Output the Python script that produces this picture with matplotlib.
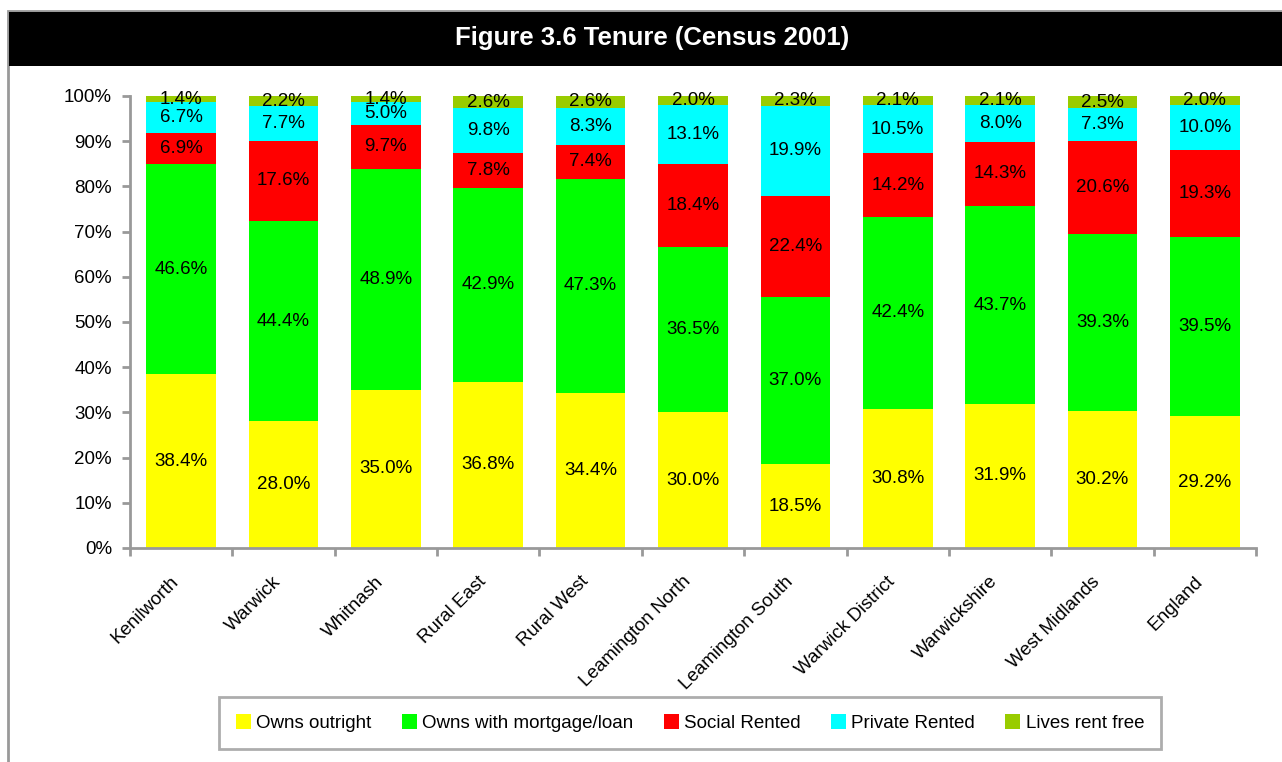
import matplotlib.pyplot as plt
import matplotlib.patches as mpatches
import matplotlib.transforms as mtransforms
import numpy as np
from matplotlib.ticker import PercentFormatter

areas = ['Kenilworth', 'Warwick', 'Whitnash', 'Rural East', 'Rural West',
         'Leamington North', 'Leamington South', 'Warwick District',
         'Warwickshire', 'West Midlands', 'England']

owns_outright = [38.4, 28.0, 35.0, 36.8, 34.4, 30.0, 18.5, 30.8, 31.9, 30.2, 29.2]
owns_mortgage = [46.6, 44.4, 48.9, 42.9, 47.3, 36.5, 37.0, 42.4, 43.7, 39.3, 39.5]
social_rented = [6.9, 17.6, 9.7, 7.8, 7.4, 18.4, 22.4, 14.2, 14.3, 20.6, 19.3]
private_rented = [6.7, 7.7, 5.0, 9.8, 8.3, 13.1, 19.9, 10.5, 8.0, 7.3, 10.0]
rent_free = [1.4, 2.2, 1.4, 2.6, 2.6, 2.0, 2.3, 2.1, 2.1, 2.5, 2.0]

series = [
    ('Owns outright', owns_outright, '#FFFF00'),
    ('Owns with mortgage/loan', owns_mortgage, '#00FF00'),
    ('Social Rented', social_rented, '#FF0000'),
    ('Private Rented', private_rented, '#00FFFF'),
    ('Lives rent free', rent_free, '#99CC00'),
]

narrow = ['Liberation Sans Narrow', 'Liberation Sans', 'DejaVu Sans']
plt.rcParams['font.family'] = narrow

fig = plt.figure(figsize=(12.82, 7.62), dpi=100)

# outer frame and black title bar
fig.add_artist(mpatches.Rectangle((8 / 1282, -0.05), 1.1, (762 - 11) / 762 + 0.05,
                                  transform=fig.transFigure, fill=False,
                                  edgecolor='#999999', linewidth=2))
fig.add_artist(mpatches.Rectangle((9 / 1282, (762 - 66) / 762), 1.0, 54 / 762,
                                  transform=fig.transFigure, facecolor='black',
                                  edgecolor='none'))
fig.text(652 / 1282, (762 - 38) / 762, 'Figure 3.6 Tenure (Census 2001)',
         color='white', fontsize=18.5, fontweight='bold',
         family=['Liberation Sans', 'DejaVu Sans'], ha='center', va='center')

ax = fig.add_axes([130 / 1282, 214 / 762, 1126 / 1282, 452 / 762])

x = np.arange(len(areas))
bottom = np.zeros(len(areas))
handles = []
for name, vals, col in series:
    vals = np.array(vals)
    bars = ax.bar(x, vals, 0.68, bottom=bottom, color=col, label=name)
    ax.bar_label(bars, labels=[f'{v:.1f}%' for v in vals], label_type='center',
                 fontsize=13.5, color='black')
    bottom += vals
    handles.append(bars)

ax.set_xlim(-0.5, len(areas) - 0.5)
ax.set_ylim(0, 100)
ax.yaxis.set_major_formatter(PercentFormatter(decimals=0))
ax.set_yticks(np.arange(0, 101, 10))
ax.tick_params(axis='y', labelsize=13.5, length=6, width=2, color='#999999',
               pad=7, labelcolor='black')

ax.set_xticks(np.arange(-0.5, len(areas)))
ax.set_xticklabels([])
ax.tick_params(axis='x', which='major', length=6, width=2, color='#999999')
ax.set_xticks(x, minor=True)
ax.set_xticklabels(areas, minor=True, rotation=45, ha='right',
                   rotation_mode='anchor', fontsize=13.5)
ax.tick_params(axis='x', which='minor', length=0, pad=18)
shift = mtransforms.ScaledTranslation(-11 / 100, 0, fig.dpi_scale_trans)
for lab in ax.get_xticklabels(minor=True):
    lab.set_transform(lab.get_transform() + shift)

for side in ['top', 'right']:
    ax.spines[side].set_visible(False)
for side in ['left', 'bottom']:
    ax.spines[side].set_color('#999999')
    ax.spines[side].set_linewidth(2)

leg = fig.legend(handles=handles, loc='center', ncol=5,
                 bbox_to_anchor=(690 / 1282, (762 - 723) / 762),
                 fontsize=13.5, frameon=True, fancybox=False,
                 handlelength=0.8, handleheight=0.8, handletextpad=0.3,
                 columnspacing=1.6, borderpad=0.9)
leg.get_frame().set_edgecolor('#999999')
leg.get_frame().set_linewidth(2)

fig.savefig('out.png', dpi=100)
